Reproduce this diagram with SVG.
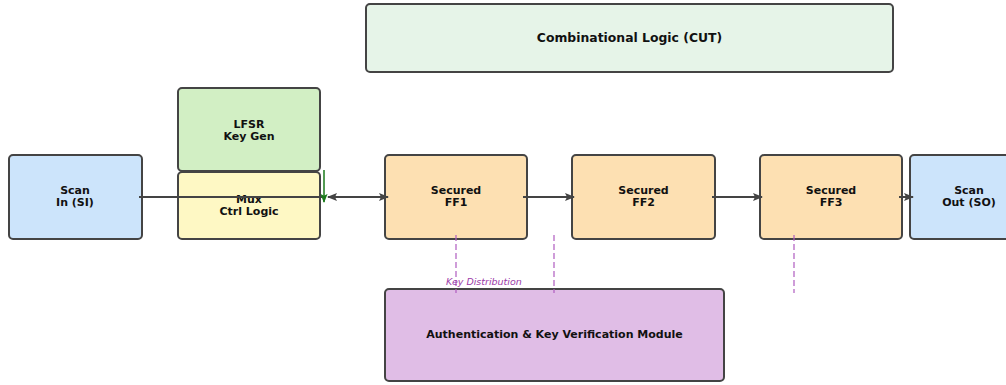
<svg xmlns="http://www.w3.org/2000/svg" width="1006" height="385" viewBox="0 0 1006 385">
<defs>
<style>
.box{stroke:#444;stroke-width:2}
.t{font-family:"DejaVu Sans",sans-serif;font-weight:bold;font-size:11px;fill:#111;text-anchor:middle}
.c{stroke:#444;stroke-width:2;fill:none}
.d{stroke:#b05cc0;stroke-width:1.2;stroke-dasharray:6,3;fill:none}
</style>
<marker id="ah" viewBox="0 0 10 10" refX="9" refY="5" markerWidth="10" markerHeight="10" orient="auto-start-reverse" markerUnits="userSpaceOnUse"><path d="M0,1 L10,5 L0,9 L2,5 z" fill="#444"/></marker>
<marker id="ag" viewBox="0 0 10 10" refX="9" refY="5" markerWidth="9" markerHeight="9" orient="auto" markerUnits="userSpaceOnUse"><path d="M0,1 L10,5 L0,9 L2,5 z" fill="#1a7a1a"/></marker>
</defs>
<rect width="1006" height="385" fill="#fff"/>
<g id="cut"><rect class="box" x="366" y="4" width="527" height="68" rx="4" fill="#e6f4e8"/><text class="t" x="629.5" y="42" style="font-size:12.4px">Combinational Logic (CUT)</text></g>
<g id="scanin"><rect class="box" x="9" y="155" width="133" height="84" rx="4" fill="#cce4fb"/><text class="t" x="75" y="194">Scan</text><text class="t" x="75" y="206">In (SI)</text></g>
<g id="lfsr"><rect class="box" x="178" y="88" width="142" height="83" rx="4" fill="#d2efc4"/><text class="t" x="249" y="128">LFSR</text><text class="t" x="249" y="140">Key Gen</text></g>
<g id="mux"><rect class="box" x="178" y="172" width="142" height="67" rx="4" fill="#fef8c4"/><text class="t" x="249" y="203">Mux</text><text class="t" x="249" y="215">Ctrl Logic</text></g>
<g id="ff1"><rect class="box" x="385" y="155" width="142" height="84" rx="4" fill="#fde0b2"/><text class="t" x="456" y="194">Secured</text><text class="t" x="456" y="206">FF1</text></g>
<g id="ff2"><rect class="box" x="572" y="155" width="143" height="84" rx="4" fill="#fde0b2"/><text class="t" x="643.5" y="194">Secured</text><text class="t" x="643.5" y="206">FF2</text></g>
<g id="ff3"><rect class="box" x="760" y="155" width="142" height="84" rx="4" fill="#fde0b2"/><text class="t" x="831" y="194">Secured</text><text class="t" x="831" y="206">FF3</text></g>
<g id="scanout"><rect class="box" x="910" y="155" width="110" height="84" rx="4" fill="#cce4fb"/><text class="t" x="969" y="194">Scan</text><text class="t" x="969" y="206">Out (SO)</text></g>
<g id="auth"><rect class="box" x="385" y="289" width="339" height="92" rx="4" fill="#e0bde6"/><text class="t" x="554.5" y="338">Authentication &amp; Key Verification Module</text></g>
<g id="connectors">
<line class="c" x1="139" y1="197" x2="325" y2="197"/>
<line x1="324" y1="170" x2="324" y2="202" stroke="#1a7a1a" stroke-width="1.5" marker-end="url(#ag)"/>
<line class="c" x1="328" y1="197" x2="388" y2="197" marker-start="url(#ah)" marker-end="url(#ah)"/>
<line class="c" x1="523" y1="197" x2="574" y2="197" marker-end="url(#ah)"/>
<line class="c" x1="712" y1="197" x2="762" y2="197" marker-end="url(#ah)"/>
<line class="c" x1="899" y1="197" x2="913" y2="197" marker-end="url(#ah)"/>
<line class="d" x1="456" y1="235" x2="456" y2="293"/>
<line class="d" x1="554" y1="235" x2="554" y2="293"/>
<line class="d" x1="794" y1="235" x2="794" y2="293"/>
<text x="446" y="285" font-family="DejaVu Sans,sans-serif" font-style="italic" font-size="9.5" fill="#9b3aa8">Key Distribution</text>
</g>
</svg>
